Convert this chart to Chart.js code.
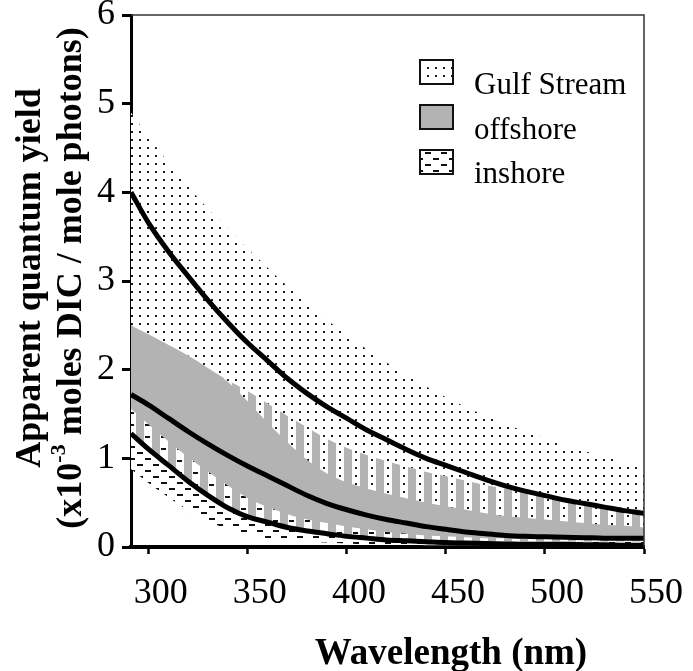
<!DOCTYPE html>
<html lang="en">
<head>
<meta charset="UTF-8">
<title>Apparent quantum yield spectra</title>
<script src="https://cdn.jsdelivr.net/npm/chart.js"></script>
<style>
  body { margin: 0; background: #fff; }
  .wrap { position: relative; width: 693px; height: 671px; }
</style>
</head>
<body>
<div class="wrap"><canvas id="aqyChart"></canvas></div>
<script>
// wavelength (nm) and yields (x10^-3 moles DIC / mole photons)
const wavelength    = [291, 300, 310, 320, 330, 340, 350, 360, 370, 380, 390, 400, 410, 420, 430, 440, 450, 460, 470, 480, 490, 500, 510, 520, 530, 540, 550];

const gulfMean      = [4.00, 3.65, 3.33, 3.05, 2.78, 2.53, 2.30, 2.10, 1.90, 1.73, 1.58, 1.45, 1.32, 1.21, 1.10, 1.00, 0.92, 0.84, 0.76, 0.69, 0.63, 0.58, 0.53, 0.49, 0.45, 0.41, 0.38];
const gulfUpper     = [4.90, 4.62, 4.33, 4.06, 3.81, 3.58, 3.36, 3.15, 2.94, 2.75, 2.56, 2.39, 2.23, 2.08, 1.94, 1.81, 1.69, 1.58, 1.48, 1.39, 1.30, 1.22, 1.14, 1.08, 1.02, 0.95, 0.88];
const gulfLower     = [2.50, 2.40, 2.28, 2.16, 2.02, 1.86, 1.64, 1.40, 1.18, 0.98, 0.83, 0.73, 0.66, 0.60, 0.55, 0.50, 0.46, 0.42, 0.38, 0.35, 0.33, 0.31, 0.29, 0.27, 0.25, 0.24, 0.22];

const offshoreMean  = [1.72, 1.60, 1.45, 1.30, 1.16, 1.03, 0.91, 0.80, 0.69, 0.58, 0.49, 0.42, 0.36, 0.31, 0.27, 0.23, 0.20, 0.17, 0.15, 0.13, 0.12, 0.115, 0.11, 0.105, 0.10, 0.10, 0.10];
const offshoreUpper = [2.50, 2.40, 2.28, 2.16, 2.02, 1.88, 1.76, 1.62, 1.48, 1.35, 1.22, 1.12, 1.04, 0.97, 0.91, 0.85, 0.80, 0.75, 0.70, 0.66, 0.61, 0.57, 0.54, 0.50, 0.47, 0.44, 0.42];
const offshoreLower = [1.25, 1.07, 0.89, 0.70, 0.55, 0.42, 0.33, 0.26, 0.21, 0.17, 0.14, 0.12, 0.10, 0.09, 0.08, 0.07, 0.07, 0.06, 0.06, 0.06, 0.06, 0.06, 0.06, 0.06, 0.06, 0.06, 0.06];

const inshoreMean   = [1.28, 1.10, 0.92, 0.74, 0.58, 0.44, 0.34, 0.28, 0.22, 0.18, 0.15, 0.12, 0.10, 0.08, 0.07, 0.06, 0.05, 0.045, 0.04, 0.035, 0.03, 0.03, 0.03, 0.025, 0.025, 0.02, 0.02];
const inshoreUpper  = [1.56, 1.38, 1.19, 1.01, 0.85, 0.69, 0.55, 0.45, 0.37, 0.31, 0.27, 0.23, 0.20, 0.17, 0.15, 0.13, 0.12, 0.11, 0.10, 0.10, 0.09, 0.09, 0.09, 0.08, 0.08, 0.08, 0.08];
const inshoreLower  = [0.88, 0.72, 0.56, 0.41, 0.29, 0.20, 0.14, 0.10, 0.08, 0.06, 0.05, 0.04, 0.03, 0.03, 0.03, 0.02, 0.02, 0.02, 0.02, 0.02, 0.01, 0.01, 0.01, 0.01, 0.01, 0.01, 0.01];

const xTicks = [300, 350, 400, 450, 500, 550];
const legendNames = ["Gulf Stream", "offshore", "inshore"];

const GRAY = "#b3b3b3";
const SERIF = "Liberation Serif";

function makePattern(w, h, draw) {
  const c = document.createElement("canvas");
  c.width = w;
  c.height = h;
  const g = c.getContext("2d");
  draw(g);
  return g.createPattern(c, "repeat");
}

// white with small dots (Gulf Stream)
const dotsPattern = makePattern(8, 8, g => {
  g.fillStyle = "#fff"; g.fillRect(0, 0, 8, 8);
  g.fillStyle = "#1a1a1a"; g.fillRect(3, 3, 2, 2);
});
// dotted white bars over the gray band
const dotStripes = makePattern(16, 8, g => {
  g.fillStyle = "#fff"; g.fillRect(0, 0, 8, 8);
  g.fillStyle = "#1a1a1a"; g.fillRect(3, 3, 2, 2);
});
// white with short dashes (inshore)
const dashPattern = makePattern(16, 12, g => {
  g.fillStyle = "#fff"; g.fillRect(0, 0, 16, 12);
  g.fillStyle = "#111"; g.fillRect(1, 2, 6, 2); g.fillRect(9, 8, 6, 2);
});
const dashStripes = makePattern(16, 12, g => {
  g.fillStyle = "#fff"; g.fillRect(0, 0, 8, 12);
  g.fillStyle = "#111"; g.fillRect(1, 4, 5, 2);
});

function pts(arr) {
  return wavelength.map((w, i) => ({ x: w, y: arr[i] }));
}

function meanLine(arr, order) {
  return {
    data: pts(arr), borderColor: "#000", borderWidth: 5,
    pointRadius: 0, fill: false, order: order
  };
}

function bound(arr, fill, bg, order) {
  return {
    data: pts(arr), borderColor: "rgba(0,0,0,0)", borderWidth: 1,
    pointRadius: 0, fill: fill, backgroundColor: bg, order: order
  };
}

const datasets = [
  meanLine(gulfMean, 1),                       // 0
  meanLine(offshoreMean, 2),                   // 1
  meanLine(inshoreMean, 3),                    // 2
  bound(gulfUpper, 4, dotsPattern, 8),         // 3
  bound(offshoreUpper, 7, GRAY, 9),            // 4
  bound(gulfLower, 4, dotStripes, 7),          // 5
  bound(inshoreUpper, 7, dashStripes, 6),      // 6
  bound(offshoreLower, 8, dashPattern, 5),     // 7
  bound(inshoreLower, false, "rgba(0,0,0,0)", 4) // 8
];

const extras = {
  id: "extras",
  afterDraw(chart) {
    const ctx = chart.ctx;
    const a = chart.chartArea;
    ctx.save();

    // thin frame on top and right
    ctx.strokeStyle = "#333";
    ctx.lineWidth = 1.5;
    ctx.beginPath();
    ctx.moveTo(a.left, a.top);
    ctx.lineTo(a.right, a.top);
    ctx.lineTo(a.right, a.bottom);
    ctx.stroke();

    // legend
    const fills = [dotsPattern, GRAY, dashPattern];
    const boxY = [60, 105, 150];
    const textY = [94, 139, 183];
    ctx.font = "31px '" + SERIF + "'";
    ctx.textAlign = "left";
    ctx.textBaseline = "alphabetic";
    for (let i = 0; i < 3; i++) {
      ctx.fillStyle = fills[i];
      ctx.fillRect(420, boxY[i], 33, 24);
      ctx.strokeStyle = "#111";
      ctx.lineWidth = 2;
      ctx.strokeRect(420, boxY[i], 33, 24);
      ctx.fillStyle = "#000";
      ctx.fillText(legendNames[i], 474, textY[i]);
    }

    // x axis title
    ctx.font = "bold 37px '" + SERIF + "'";
    ctx.textAlign = "center";
    ctx.fillText("Wavelength (nm)", 451, 664);

    // y axis title, two rotated lines
    ctx.save();
    ctx.translate(40, 278);
    ctx.rotate(-Math.PI / 2);
    ctx.font = "bold 36px '" + SERIF + "'";
    ctx.fillText("Apparent quantum yield", 0, 0);
    ctx.restore();

    ctx.save();
    ctx.translate(81, 278);
    ctx.rotate(-Math.PI / 2);
    const main = "bold 36px '" + SERIF + "'";
    const sup = "bold 22px '" + SERIF + "'";
    const p1 = "(x10", p2 = "-3", p3 = " moles DIC / mole photons)";
    ctx.font = main;
    const w1 = ctx.measureText(p1).width, w3 = ctx.measureText(p3).width;
    ctx.font = sup;
    const w2 = ctx.measureText(p2).width;
    let x = -(w1 + w2 + w3) / 2;
    ctx.textAlign = "left";
    ctx.font = main; ctx.fillText(p1, x, 0); x += w1;
    ctx.font = sup; ctx.fillText(p2, x, -16); x += w2;
    ctx.font = main; ctx.fillText(p3, x, 0);
    ctx.restore();

    ctx.restore();
  }
};

new Chart(document.getElementById("aqyChart"), {
  type: "line",
  data: { datasets: datasets },
  options: {
    responsive: true,
    maintainAspectRatio: false,
    animation: false,
    events: [],
    layout: { padding: { left: 0, top: 15, right: 45, bottom: 0 } },
    elements: { line: { cubicInterpolationMode: "monotone" } },
    plugins: {
      legend: { display: false },
      tooltip: { enabled: false },
      filler: { drawTime: "beforeDatasetsDraw" }
    },
    scales: {
      x: {
        type: "linear",
        min: 291,
        max: 550,
        z: 1,
        afterBuildTicks: scale => { scale.ticks = xTicks.map(v => ({ value: v })); },
        afterFit: scale => { scale.height = 124; },
        grid: { drawOnChartArea: false, tickLength: 7, tickWidth: 2.5, tickColor: "#000" },
        border: { display: true, color: "#000", width: 4 },
        ticks: {
          color: "#000",
          padding: 22,
          labelOffset: 12,
          maxRotation: 0,
          font: { family: SERIF, size: 36, lineHeight: 1 }
        }
      },
      y: {
        min: 0,
        max: 6,
        z: 1,
        afterFit: scale => { scale.width = 131; },
        grid: { drawOnChartArea: false, tickLength: 9, tickWidth: 3, tickColor: "#000" },
        border: { display: true, color: "#000", width: 3 },
        ticks: {
          stepSize: 1,
          color: "#000",
          padding: 7,
          font: { family: SERIF, size: 36, lineHeight: 0.4 }
        }
      }
    }
  },
  plugins: [extras]
});
</script>
</body>
</html>
